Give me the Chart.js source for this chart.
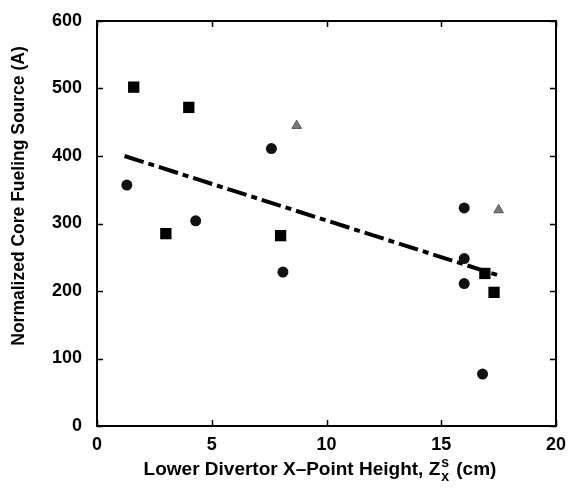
<!DOCTYPE html>
<html>
<head>
<meta charset="utf-8">
<script src="https://cdn.jsdelivr.net/npm/chart.js@4.4.1/dist/chart.umd.min.js"></script>
<style>
  html, body { margin: 0; padding: 0; background: #fff; }
  #wrap { width: 568px; height: 488px; position: relative; }
</style>
</head>
<body>
<div id="wrap"><canvas id="c" width="568" height="488"></canvas></div>
<script>
// ---- data ----
const squaresX   = [1.6, 4.0, 3.0, 8.0, 16.9, 17.3];
const squaresY   = [502, 472, 285, 282, 226, 198];
const circlesX   = [1.3, 4.3, 7.6, 8.1, 16.0, 16.0, 16.0, 16.8];
const circlesY   = [357, 304, 411, 228, 323, 248, 211, 77];
const trianglesX = [8.7, 17.5];
const trianglesY = [445, 320];
const fitX       = [1.2, 17.6];
const fitY       = [400, 222];
const xTicks     = [0, 5, 10, 15, 20];
const yTicks     = [0, 100, 200, 300, 400, 500, 600];

const yTitle = "Normalized Core Fueling Source (A)";
const xTitleMain = "Lower Divertor X\u2013Point Height, Z";
const xTitleSup = "s";
const xTitleSub = "x";
const xTitleEnd = " (cm)";

const FONT = '"Liberation Sans", Arial, Helvetica, sans-serif';

function pts(xs, ys) { return xs.map((x, i) => ({ x: x, y: ys[i] })); }

const framePlugin = {
  id: 'frame',
  afterDraw(chart) {
    const ctx = chart.ctx;
    const a = chart.chartArea;
    const xs = chart.scales.x, ys = chart.scales.y;
    ctx.save();
    ctx.strokeStyle = '#000';
    ctx.lineWidth = 2;
    ctx.strokeRect(a.left, a.top, a.right - a.left, a.bottom - a.top);
    const tl = 6;
    ctx.lineWidth = 1.5;
    ctx.beginPath();
    xs.ticks.forEach(t => {
      const px = Math.round(xs.getPixelForValue(t.value)) + 0.5;
      ctx.moveTo(px, a.bottom); ctx.lineTo(px, a.bottom - tl);
      ctx.moveTo(px, a.top); ctx.lineTo(px, a.top + tl);
    });
    ys.ticks.forEach(t => {
      const py = Math.round(ys.getPixelForValue(t.value)) + 0.5;
      ctx.moveTo(a.left, py); ctx.lineTo(a.left + tl, py);
      ctx.moveTo(a.right, py); ctx.lineTo(a.right - tl, py);
    });
    ctx.stroke();

    // y title
    ctx.fillStyle = '#000';
    ctx.font = 'bold 17.5px ' + FONT;
    ctx.textAlign = 'center';
    ctx.textBaseline = 'middle';
    ctx.save();
    ctx.translate(19, 196);
    ctx.rotate(-Math.PI / 2);
    ctx.fillText(yTitle, 0, 0);
    ctx.restore();

    // x title with super/subscript
    const big = 'bold 19px ' + FONT, small = 'bold 14px ' + FONT;
    ctx.textAlign = 'left';
    ctx.textBaseline = 'alphabetic';
    ctx.font = big;
    const w1 = ctx.measureText(xTitleMain).width;
    const w3 = ctx.measureText(xTitleEnd).width;
    ctx.font = small;
    const w2 = Math.max(ctx.measureText(xTitleSup).width, ctx.measureText(xTitleSub).width);
    const total = w1 + w2 + w3 + 3;
    const cx = 320;
    let x0 = cx - total / 2;
    const base = 475;
    ctx.font = big;
    ctx.fillText(xTitleMain, x0, base);
    ctx.font = small;
    ctx.fillText(xTitleSup, x0 + w1 + 1, base - 8);
    ctx.fillText(xTitleSub, x0 + w1 + 1, base + 6);
    ctx.font = big;
    ctx.fillText(xTitleEnd, x0 + w1 + w2 + 3, base);
    ctx.restore();
  }
};

new Chart(document.getElementById('c'), {
  type: 'scatter',
  data: {
    datasets: [
      { label: 'squares', data: pts(squaresX, squaresY), pointStyle: 'rect', pointRadius: 8,
        backgroundColor: '#000', borderColor: '#000', borderWidth: 0, showLine: false },
      { label: 'circles', data: pts(circlesX, circlesY), pointStyle: 'circle', pointRadius: 5.5,
        backgroundColor: '#111', borderColor: '#111', borderWidth: 0, showLine: false },
      { label: 'triangles', data: pts(trianglesX, trianglesY), pointStyle: 'triangle', pointRadius: 5.5,
        backgroundColor: '#7a7a7a', borderColor: '#555', borderWidth: 1, showLine: false },
      { label: 'fit', data: pts(fitX, fitY), showLine: true, pointRadius: 0, borderColor: '#000',
        borderWidth: 4, borderDash: [20, 5, 6, 5], fill: false }
    ]
  },
  options: {
    responsive: false,
    animation: false,
    devicePixelRatio: 1,
    layout: { padding: { left: 0, right: 12, top: 21, bottom: 0 } },
    plugins: { legend: { display: false }, tooltip: { enabled: false } },
    scales: {
      x: {
        type: 'linear', min: 0, max: 20,
        afterBuildTicks(s) { s.ticks = xTicks.map(v => ({ value: v })); },
        afterFit(s) { s.height = 62; s.paddingLeft = 0; s.paddingRight = 0; },
        grid: { display: false },
        border: { display: false },
        ticks: { color: '#000', padding: 0, font: { family: FONT, size: 18, weight: 'bold' }, maxRotation: 0 }
      },
      y: {
        type: 'linear', min: 0, max: 600,
        afterBuildTicks(s) { s.ticks = yTicks.map(v => ({ value: v })); },
        afterFit(s) { s.width = 97; s.paddingTop = 0; s.paddingBottom = 0; },
        grid: { display: false },
        border: { display: false },
        ticks: { color: '#000', padding: 7, font: { family: FONT, size: 18, weight: 'bold' } }
      }
    }
  },
  plugins: [framePlugin]
});
</script>
</body>
</html>
